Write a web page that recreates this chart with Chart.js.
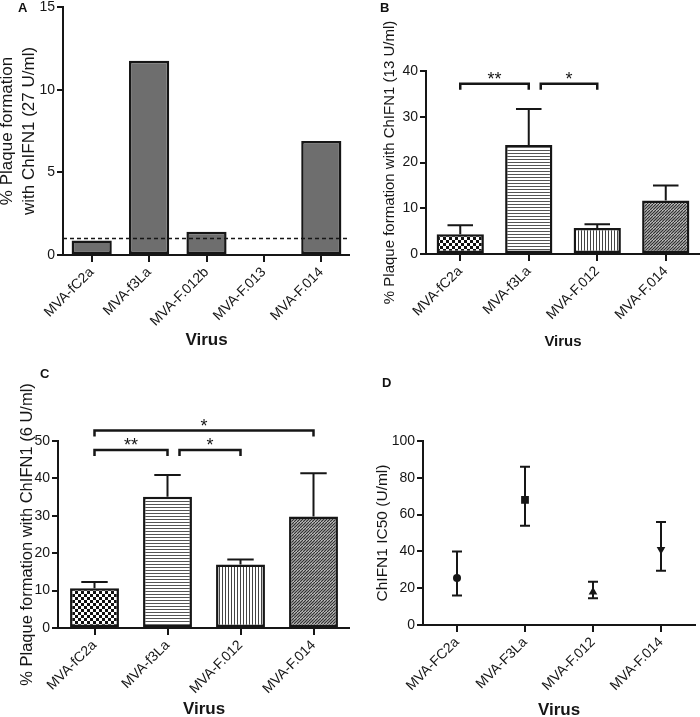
<!DOCTYPE html>
<html><head><meta charset="utf-8">
<script src="https://cdn.jsdelivr.net/npm/chart.js@4.4.0/dist/chart.umd.min.js"></script>
<style>
html,body{margin:0;padding:0;background:#fff;overflow:hidden;width:700px;height:717px;position:relative}
.p{position:absolute}
.lbl{position:absolute;font:bold 13px 'Liberation Sans',Arial,sans-serif;line-height:1;color:#111}
</style></head><body>
<div class="p" style="left:0;top:0"><canvas id="cA" width="350" height="360"></canvas></div>
<div class="p" style="left:350px;top:0"><canvas id="cB" width="350" height="360"></canvas></div>
<div class="p" style="left:0;top:360px"><canvas id="cC" width="350" height="357"></canvas></div>
<div class="p" style="left:350px;top:360px"><canvas id="cD" width="350" height="357"></canvas></div>
<div class="lbl" style="left:18px;top:1px">A</div>
<div class="lbl" style="left:380px;top:1px">B</div>
<div class="lbl" style="left:40px;top:367px">C</div>
<div class="lbl" style="left:382px;top:376px">D</div>
<script>
// ---- data ----
const catsA = ['MVA-fC2a', 'MVA-f3La', 'MVA-F.012b', 'MVA-F.013', 'MVA-F.014'];
const valsA = [0.87, 11.75, 1.4, 0, 6.9];
const thresholdA = 1;

const catsB = ['MVA-fC2a', 'MVA-f3La', 'MVA-F.012', 'MVA-F.014'];
const valsB = [4.3, 23.8, 5.7, 11.7];
const upperB = [6.3, 31.7, 6.5, 15.0];
const bracketsB = [
  {from: 0, to: 1, y: 37.2, label: '**'},
  {from: 1, to: 2, y: 37.2, label: '*'}
];

const catsC = ['MVA-fC2a', 'MVA-f3La', 'MVA-F.012', 'MVA-F.014'];
const valsC = [10.6, 35.1, 17.0, 29.8];
const upperC = [12.3, 40.9, 18.3, 41.4];
const bracketsC = [
  {from: 0, to: 1, y: 47.6, label: '**'},
  {from: 1, to: 2, y: 47.6, label: '*'},
  {from: 0, to: 3, y: 52.8, label: '*'}
];

const catsD = ['MVA-FC2a', 'MVA-F3La', 'MVA-F.012', 'MVA-F.014'];
const valsD = [25.5, 68, 18, 41];
const lowD = [16, 54, 14.5, 29.5];
const highD = [40, 86, 23.5, 56];

// ---- styling ----
const INK = '#161616';
const FONT = "'Liberation Sans', Arial, Helvetica, sans-serif";
Chart.defaults.font.family = FONT;
Chart.defaults.color = INK;

function pat(kind) {
  const c = document.createElement('canvas');
  const g = c.getContext('2d');
  if (kind === 'check') {
    c.width = 6; c.height = 6;
    g.fillStyle = '#fff'; g.fillRect(0, 0, 6, 6);
    g.fillStyle = '#111'; g.fillRect(0, 0, 3, 3); g.fillRect(3, 3, 3, 3);
  } else if (kind === 'hline') {
    c.width = 4; c.height = 3;
    g.fillStyle = '#fff'; g.fillRect(0, 0, 4, 3);
    g.fillStyle = '#555'; g.fillRect(0, 0, 4, 1);
  } else if (kind === 'vline') {
    c.width = 3; c.height = 4;
    g.fillStyle = '#fff'; g.fillRect(0, 0, 3, 4);
    g.fillStyle = '#444'; g.fillRect(0, 0, 1, 4);
  } else {
    c.width = 6; c.height = 6;
    g.fillStyle = '#e2e2e2'; g.fillRect(0, 0, 6, 6);
    g.strokeStyle = '#333'; g.lineWidth = 1.3;
    for (let k = -6; k <= 12; k += 3) { g.beginPath(); g.moveTo(k, 6); g.lineTo(k + 6, 0); g.stroke(); }
  }
  return g.createPattern(c, 'repeat');
}
const barFills = [pat('check'), pat('hline'), pat('vline'), pat('diag')];

function yAxis(o) {
  return {
    min: o.min, max: o.max,
    ticks: {stepSize: o.step, font: {size: 14}, padding: 2, color: INK},
    grid: {drawOnChartArea: false, drawTicks: true, tickLength: 6, color: INK, lineWidth: 2},
    border: {display: true, color: INK, width: 2},
    title: {display: true, text: o.title, color: INK,
            font: {size: o.tsize, lineHeight: o.lh || 1.2}, padding: {top: o.tpad, bottom: 0}},
    afterFit(s) { s.width = o.width; s.paddingTop = 0; s.paddingBottom = 0; }
  };
}
function xAxis(o) {
  return {
    type: 'category', offset: true,
    ticks: {font: {size: 14}, minRotation: 45, maxRotation: 45, autoSkip: false, padding: 2, color: INK},
    grid: {offset: false, drawOnChartArea: false, drawTicks: true, tickLength: 7, color: INK, lineWidth: 2},
    border: {display: true, color: INK, width: 2},
    title: {display: true, text: 'Virus', color: INK,
            font: {size: o.tsize, weight: 'bold', lineHeight: 1}, padding: {top: 0, bottom: o.tpad}},
    afterFit(s) { s.height = o.height; s.paddingLeft = 0; s.paddingRight = 0; }
  };
}
function baseOpts(top, x, y, extra) {
  return Object.assign({
    responsive: false, animation: false,
    layout: {padding: {top: top, left: 0, right: 0, bottom: 0}},
    plugins: {legend: {display: false}, tooltip: {enabled: false}},
    scales: {x: x, y: y}
  }, extra || {});
}

// annotations plugin factory: error bars, brackets, threshold line
function annot(cfg) {
  return {
    id: 'annot',
    afterDatasetsDraw(chart) {
      const ctx = chart.ctx, xs = chart.scales.x, ys = chart.scales.y, ca = chart.chartArea;
      ctx.save();
      ctx.strokeStyle = INK; ctx.fillStyle = INK; ctx.lineCap = 'butt';
      if (cfg.threshold !== undefined) {
        const y = ys.getPixelForValue(cfg.threshold);
        ctx.lineWidth = 1.5; ctx.setLineDash([4, 3]);
        ctx.beginPath(); ctx.moveTo(ca.left, y); ctx.lineTo(ca.right, y); ctx.stroke();
        ctx.setLineDash([]);
      }
      if (cfg.upper) {
        const meta = chart.getDatasetMeta(0);
        ctx.lineWidth = 2;
        cfg.upper.forEach((u, i) => {
          const bar = meta.data[i];
          const x = bar.x, y0 = ys.getPixelForValue(cfg.values[i]), y1 = ys.getPixelForValue(u);
          const hw = bar.width * 0.27;
          ctx.beginPath();
          ctx.moveTo(x, y0); ctx.lineTo(x, y1);
          ctx.moveTo(x - hw, y1); ctx.lineTo(x + hw, y1);
          ctx.stroke();
        });
      }
      if (cfg.low) {
        ctx.lineWidth = 2;
        cfg.low.forEach((lo, i) => {
          const x = xs.getPixelForValue(i);
          const y0 = ys.getPixelForValue(lo), y1 = ys.getPixelForValue(cfg.high[i]);
          ctx.beginPath();
          ctx.moveTo(x, y0); ctx.lineTo(x, y1);
          ctx.moveTo(x - 5, y0); ctx.lineTo(x + 5, y0);
          ctx.moveTo(x - 5, y1); ctx.lineTo(x + 5, y1);
          ctx.stroke();
        });
      }
      if (cfg.brackets) {
        ctx.lineWidth = 2.5;
        ctx.font = '18px ' + FONT; ctx.textAlign = 'center'; ctx.textBaseline = 'alphabetic';
        cfg.brackets.forEach(b => {
          let x1 = xs.getPixelForValue(b.from), x2 = xs.getPixelForValue(b.to);
          if (cfg.brackets.some(o => o !== b && o.y === b.y && o.to === b.from)) x1 += 12;
          const y = ys.getPixelForValue(b.y);
          ctx.beginPath();
          ctx.moveTo(x1, y + 6); ctx.lineTo(x1, y); ctx.lineTo(x2, y); ctx.lineTo(x2, y + 6);
          ctx.stroke();
          ctx.fillText(b.label, (x1 + x2) / 2, y + 1);
        });
      }
      ctx.restore();
    }
  };
}

// ---- Panel A ----
new Chart(document.getElementById('cA'), {
  type: 'bar',
  data: {labels: catsA, datasets: [{data: valsA, backgroundColor: '#6e6e6e', borderColor: INK,
    borderWidth: 2.5, borderSkipped: false, barPercentage: 0.7, categoryPercentage: 1}]},
  options: baseOpts(7,
    xAxis({height: 105, tsize: 17, tpad: 11}),
    yAxis({min: 0, max: 15, step: 5, width: 63, title: ['% Plaque formation', 'with ChIFN1 (27 U/ml)'],
           tsize: 17, lh: 1.3, tpad: -4})),
  plugins: [annot({threshold: thresholdA})]
});

// ---- Panel B ----
new Chart(document.getElementById('cB'), {
  type: 'bar',
  data: {labels: catsB, datasets: [{data: valsB, backgroundColor: barFills, borderColor: INK,
    borderWidth: 2.5, borderSkipped: false, barPercentage: 0.69, categoryPercentage: 1}]},
  options: baseOpts(71,
    xAxis({height: 106, tsize: 15, tpad: 10.5}),
    yAxis({min: 0, max: 40, step: 10, width: 76, title: '% Plaque formation with ChIFN1 (13 U/ml)',
           tsize: 15, tpad: 31})),
  plugins: [annot({values: valsB, upper: upperB, brackets: bracketsB})]
});

// ---- Panel C ----
new Chart(document.getElementById('cC'), {
  type: 'bar',
  data: {labels: catsC, datasets: [{data: valsC, backgroundColor: barFills, borderColor: INK,
    borderWidth: 2.5, borderSkipped: false, barPercentage: 0.67, categoryPercentage: 1}]},
  options: baseOpts(81,
    xAxis({height: 89, tsize: 17, tpad: -1}),
    yAxis({min: 0, max: 50, step: 10, width: 58, title: '% Plaque formation with ChIFN1 (6 U/ml)',
           tsize: 16.5, tpad: 18})),
  plugins: [annot({values: valsC, upper: upperC, brackets: bracketsC})]
});

// ---- Panel D ----
new Chart(document.getElementById('cD'), {
  type: 'line',
  data: {labels: catsD, datasets: [{data: valsD, showLine: false,
    pointStyle: ['circle', 'rect', 'triangle', 'triangle'], pointRotation: [0, 0, 0, 180],
    pointRadius: [4, 5.5, 5, 5], pointBackgroundColor: INK, pointBorderColor: INK, pointBorderWidth: 0}]},
  options: baseOpts(81,
    xAxis({height: 92, tsize: 17, tpad: -1.5}),
    yAxis({min: 0, max: 100, step: 20, width: 73, title: 'ChIFN1 IC50 (U/ml)', tsize: 15.5, tpad: 23})),
  plugins: [annot({low: lowD, high: highD})]
});
</script>
</body></html>
